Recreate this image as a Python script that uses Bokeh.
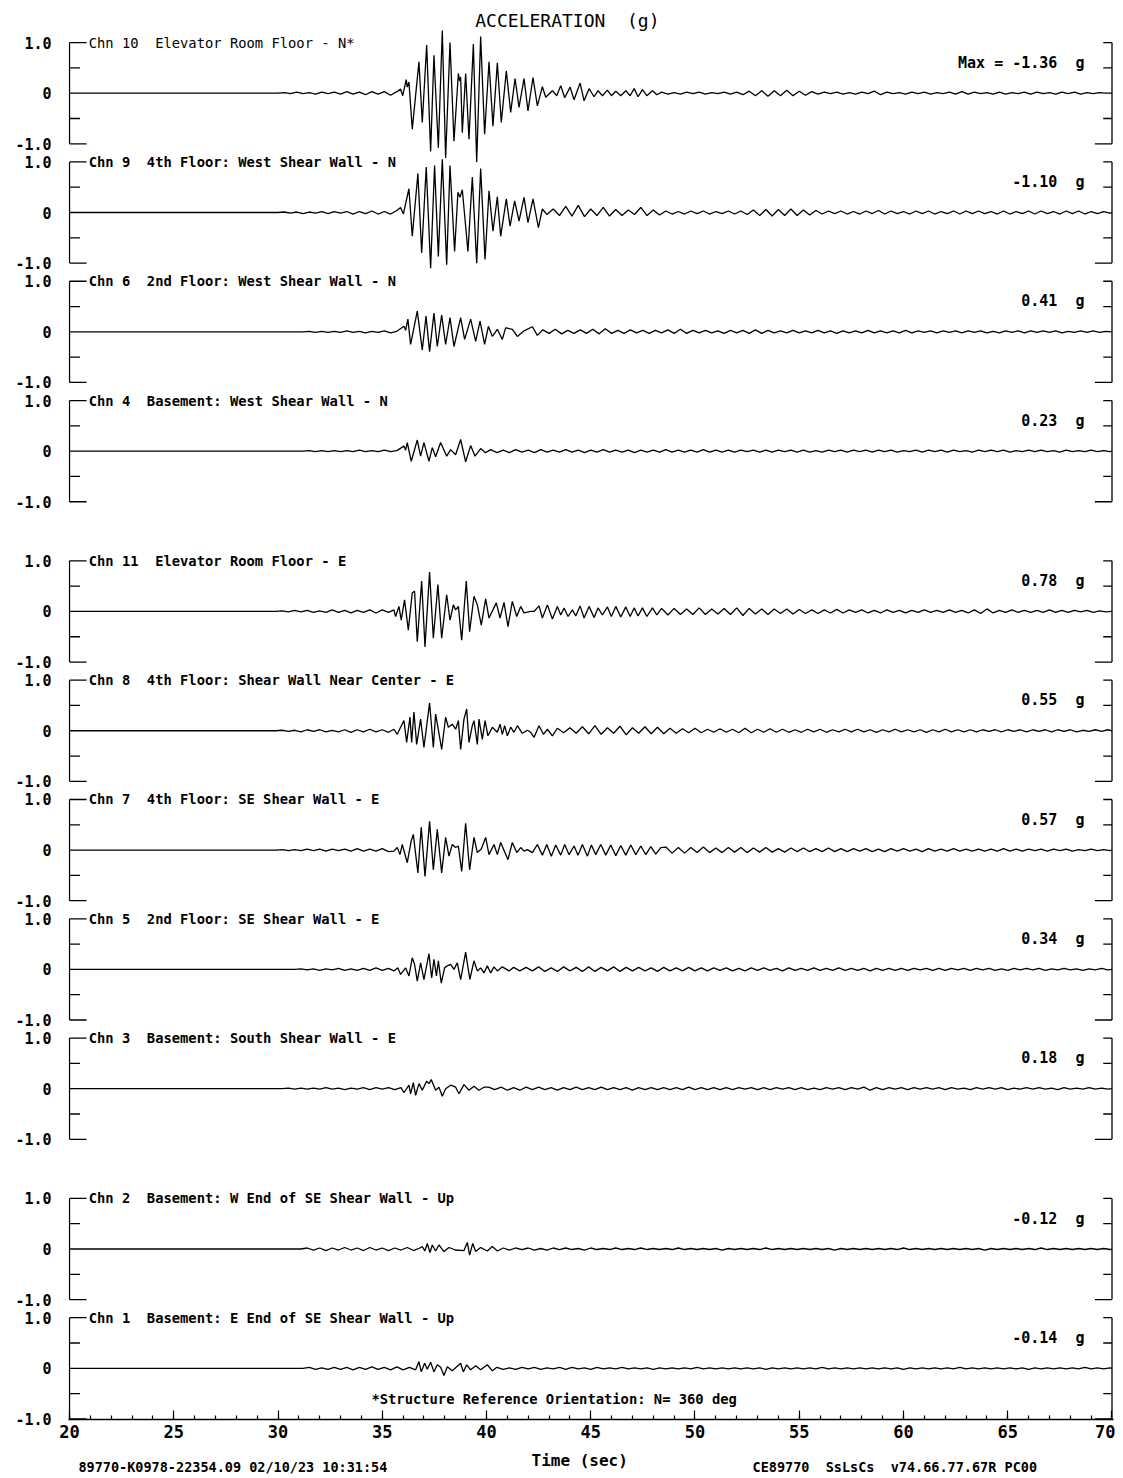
from bokeh.plotting import figure
from bokeh.models import Range1d, FixedTicker, SingleIntervalTicker, ColumnDataSource
from bokeh.layouts import column
from bokeh.embed import file_html
from bokeh.resources import INLINE
from bokeh.core.properties import value

FONT = "DejaVu Sans Mono"
NB = "\u00a0"

# ---------------- data ----------------
channels = ["Chn 10  Elevator Room Floor - N*",
            "Chn 9  4th Floor: West Shear Wall - N",
            "Chn 6  2nd Floor: West Shear Wall - N",
            "Chn 4  Basement: West Shear Wall - N",
            "Chn 11  Elevator Room Floor - E",
            "Chn 8  4th Floor: Shear Wall Near Center - E",
            "Chn 7  4th Floor: SE Shear Wall - E",
            "Chn 5  2nd Floor: SE Shear Wall - E",
            "Chn 3  Basement: South Shear Wall - E",
            "Chn 2  Basement: W End of SE Shear Wall - Up",
            "Chn 1  Basement: E End of SE Shear Wall - Up"]
max_g = [-1.36, -1.10, 0.41, 0.23, 0.78, 0.55, 0.57, 0.34, 0.18, -0.12, -0.14]
footer_left = "89770-K0978-22354.09 02/10/23 10:31:54"
footer_right = "CE89770  SsLsCs  v74.66.77.67R PC00"
note_text = "*Structure Reference Orientation: N= 360 deg"

SAMPLE_DT = 0.3   # s, spacing of low-level samples (values in 0.01 g)

# Chn 10
ch10_pre_start = 30.0
ch10_pre = [1,-1,2,-1,1,-2,2,-1,2,-2,3,-2,2,-3,3,-2,3,-4,3,-3]
ch10_t = [35.88,35.98,36.15,36.20,36.28,36.44,36.76,36.92,37.13,37.32,37.48,37.69,37.88,38.04,38.25,
          38.44,38.65,38.71,38.76,38.84,39.00,39.16,39.37,39.53,39.72,39.91,40.12,40.31,40.52,40.71,
          40.95,41.16,41.37,41.56,41.80,41.99,42.23,42.44,42.68,42.84,43.16,43.37,43.56,43.75,44.01,
          44.20,44.49,44.68,44.92,45.16,45.35,45.56,45.80,45.99,46.20,46.44,46.68,46.89,47.08,47.27,
          47.48,47.69,47.96,48.17]
ch10_a = [0.08,-0.05,0.27,0.12,0.22,-0.71,0.62,-0.58,0.95,-1.15,0.75,-1.08,1.24,-1.28,1.00,
          -0.95,0.39,0.24,0.32,-0.78,0.39,-0.91,0.97,-1.36,1.12,-0.81,0.62,-0.65,0.60,-0.58,
          0.44,-0.38,0.29,-0.28,0.29,-0.35,0.31,-0.25,0.13,-0.08,0.05,-0.05,0.15,-0.09,0.12,
          -0.13,0.20,-0.15,0.09,-0.07,0.05,-0.05,0.06,-0.05,0.04,-0.05,0.05,-0.05,0.09,-0.07,
          0.07,-0.05,0.05,-0.03]
ch10_coda_start = 48.4
ch10_coda = [2,-2,1,-2,2,-1,2,-2,1,-1,2,-2,2,-3,4,-5,5,-6,5,-5,6,-5,4,-4,3,
             -2,2,-1,2,-2,1,-2,2,-1,4,-3,2,-1,1,-2,2,-1,2,-2,1,-1,2,-2,3,-2,2,-1,1,-2,2,-2,1,-1,
             2,-2,2,-1,1,-2,2,-1,2,-2,1,-1,1,0]

# Chn 9
ch9_pre_start = 30.0
ch9_pre = [1,-1,1,-2,1,-1,2,-2,2,-1,2,-3,2,-2,3,-3,2,-3,4,-4]
ch9_t = [35.88,36.01,36.28,36.44,36.71,36.89,37.11,37.32,37.51,37.69,37.88,38.09,38.25,38.47,38.63,
         38.73,38.84,39.11,39.32,39.53,39.72,39.93,40.12,40.31,40.52,40.68,40.95,41.13,41.35,41.56,
         41.80,41.99,42.23,42.49,42.68]
ch9_a = [0.10,-0.03,0.47,-0.47,0.77,-0.80,0.90,-1.10,0.93,-0.87,1.05,-1.03,0.93,-0.77,0.40,
         0.30,0.45,-0.77,0.70,-1.00,0.87,-0.93,0.43,-0.37,0.31,-0.47,0.27,-0.27,0.23,-0.17,
         0.30,-0.20,0.27,-0.30,0.07]
ch9_coda_start = 42.9
ch9_coda = [-4,7,-6,12,-7,14,-8,7,-6,10,-7,6,-6,5,-4,10,-6,5,-5,
            3,-3,2,-3,3,-2,3,-3,2,-2,3,-3,3,-4,5,-6,6,-7,6,-6,7,-6,5,-5,4,-3,3,-2,3,-3,
            2,-3,3,-2,4,-3,3,-2,2,-3,3,-2,3,-3,2,-2,3,-3,3,-2,3,-2,2,-3,3,-3,2,-2,3,-3,
            3,-2,2,-3,3,-2,3,-3,2,-2,2,-1]

# Chn 6
ch6_pre_start = 31.2
ch6_pre = [1,-1,1,-1,1,-1,2,-1,1,-2,1,-1,2,-2,1,-2]
ch6_t = [36.04,36.12,36.23,36.36,36.68,36.92,37.10,37.27,37.48,37.64,37.85,38.04,38.25,38.44,38.76,
         38.95,39.24,39.48,39.69,39.91,40.09,40.28,40.52,40.76,40.92,41.24,41.48,41.80,42.20,42.44]
ch6_a = [0.11,0.03,0.25,-0.25,0.41,-0.36,0.31,-0.39,0.37,-0.29,0.33,-0.25,0.28,-0.29,0.28,
         -0.15,0.25,-0.19,0.21,-0.25,0.11,-0.09,0.05,-0.15,0.08,0.05,-0.09,0.02,0.10,-0.07]
ch6_coda_start = 42.7
ch6_coda = [4,-3,5,-4,3,-3,4,-3,5,-4,6,-3,3,-3,4,-2,3,-3,3,-2,4,-3,5,-3,3,-2,3,-2,2,-3,
            3,-2,3,-3,4,-3,3,-2,2,-2,3,-2,2,-2,3,-2,2,-3,2,-2,2,-2,3,-2,2,-2,2,-2,3,-2,
            2,-1,2,-2,2,-1,2,-2,2,-1,2,-2,1,-2,2,-1,2,-2,2,-1,2,-1,2,-2,1,-1,2,-1,2,-1,1]

# Chn 4
ch4_pre_start = 31.2
ch4_pre = [1,-1,1,-1,1,-1,1,-1,2,-1,1,-1,2,-1,1,-2]
ch4_t = [36.04,36.12,36.20,36.39,36.68,36.84,37.00,37.24,37.40,37.56,37.80,38.09,38.28,38.52,38.76,
         39.00,39.24,39.45,39.72,39.95]
ch4_a = [0.10,0.02,0.17,-0.20,0.22,-0.10,0.17,-0.20,0.07,-0.11,0.17,-0.10,0.03,-0.07,0.23,
         -0.21,0.11,-0.10,0.05,-0.03]
ch4_coda_start = 40.2
ch4_coda = [3,-3,2,-3,3,-2,2,-3,3,-2,2,-2,3,-2,2,-3,2,-2,3,-2,2,-2,2,-3,2,-2,2,-2,3,-2,
            2,-2,2,-2,3,-2,2,-2,2,-2,2,-1,2,-2,2,-2,2,-1,2,-2,2,-2,1,-2,2,-1,2,-2,2,-1,
            2,-2,2,-1,2,-2,1,-1,2,-2,2,-1,2,-2,2,-1,1,-2,2,-1,2,-1,2,-2,1,-1,2,-1,2,-1,
            1,-2,2,-1,1,-1,2,-1,1,-1]

# Chn 11
ch11_pre_start = 29.9
ch11_pre = [1,-1,2,-1,2,-2,1,-2,3,-2,2,-3,2,-2,3,-3,3,-2,3]
ch11_t = [35.56,35.64,35.80,35.91,36.07,36.25,36.44,36.55,36.68,36.89,37.05,37.27,37.45,37.67,37.85,
          38.09,38.25,38.41,38.52,38.65,38.81,39.03,39.19,39.40,39.56,39.75,39.96,40.12,40.47,40.65,
          40.84,41.03,41.24,41.45,41.64,41.80,42.12,42.28,42.52,42.68,42.92,43.16,43.40,43.56,43.72,
          43.91,44.12,44.28,44.49,44.68,44.92,45.16,45.35,45.56,45.80,45.99,46.20,46.44,46.68,46.89,
          47.08,47.27,47.48,47.69,47.96,48.17]
ch11_a = [0.03,-0.10,0.10,-0.17,0.23,-0.37,0.37,0.40,-0.60,0.60,-0.70,0.78,-0.53,0.53,-0.53,
          0.33,-0.17,0.13,0.03,0.10,-0.57,0.60,-0.40,0.30,0.13,-0.27,0.25,-0.13,0.17,-0.13,
          0.18,-0.30,0.20,-0.10,0.10,-0.03,0.00,0.00,0.11,-0.13,0.13,-0.15,0.10,-0.07,0.07,
          -0.10,0.03,-0.09,0.11,-0.13,0.10,-0.12,0.07,-0.07,0.09,-0.10,0.10,-0.11,0.09,-0.10,
          0.07,-0.09,0.07,-0.10,0.07,-0.07]
ch11_coda_start = 48.4
ch11_coda = [6,-7,6,-6,5,-6,7,-6,5,-5,6,-6,7,-8,6,-5,5,-6,5,-4,5,-5,4,-4,3,-4,3,-3,4,-3,
             3,-2,3,-3,2,-3,3,-2,2,-3,2,-2,3,-2,2,-2,3,-2,2,-3,3,-4,5,-3,2,-2,3,-2,2,-2,
             2,-2,3,-2,2,-2,2,-1,2,-2,1,-1]

# Chn 8
ch8_pre_start = 29.9
ch8_pre = [1,-1,1,-2,2,-1,2,-2,1,-2,2,-3,2,-2,3,-2,2,-3,2]
ch8_t = [35.56,35.72,35.88,36.04,36.17,36.33,36.41,36.52,36.65,36.84,37.00,37.27,37.45,37.56,37.67,
         37.85,38.04,38.17,38.36,38.52,38.65,38.76,38.92,39.05,39.16,39.32,39.40,39.56,39.64,39.80,
         39.93,40.07,40.28,40.52,40.65,40.76,40.87,41.00,41.16,41.32,41.48,41.72,41.96,42.12,42.28,
         42.52,42.73,42.92,43.16]
ch8_a = [0.03,-0.07,0.07,0.20,-0.23,0.27,-0.23,0.37,-0.27,0.23,-0.33,0.55,-0.33,0.33,0.07,
         -0.37,0.27,0.07,0.13,0.03,0.20,-0.37,0.23,0.43,-0.23,0.10,0.20,-0.27,0.23,-0.17,
         0.20,-0.10,0.07,-0.03,0.13,-0.07,0.10,-0.10,0.07,-0.03,0.10,-0.05,0.01,-0.03,-0.13,
         0.10,-0.07,0.03,-0.10]
ch8_coda_start = 43.4
ch8_coda = [5,-4,6,-5,8,-6,10,-7,6,-5,9,-8,6,-5,8,-6,7,-6,5,-5,4,-4,5,-4,3,-3,4,-3,3,-4,
            5,-4,3,-3,4,-3,3,-3,2,-3,3,-2,3,-3,2,-2,3,-2,3,-2,2,-3,2,-2,3,-2,2,-2,2,-3,
            2,-2,3,-2,2,-2,2,-2,2,-1,2,-2,2,-1,2,-2,2,-1,2,-2,2,-1,2,-2,1,-1,2,-1,2]

# Chn 7
ch7_pre_start = 29.9
ch7_pre = [1,-1,1,-1,2,-1,2,-2,2,-1,2,-2,3,-2,2,-2,3,-3,2]
ch7_t = [35.56,35.72,35.85,35.96,36.20,36.39,36.49,36.71,36.87,37.05,37.27,37.45,37.64,37.85,38.04,
         38.20,38.36,38.52,38.65,38.81,39.00,39.19,39.40,39.56,39.75,39.96,40.12,40.36,40.52,40.68,
         41.03,41.24,41.45,41.64,41.80,41.96,42.20,42.44,42.68,42.89,43.11,43.32,43.56,43.75,43.96,
         44.20,44.39,44.60,44.84,45.03,45.24,45.48,45.72,45.96,46.20,46.44,46.68,46.92,47.16,47.40,
         47.64,47.88,48.12,48.36]
ch7_a = [-0.02,0.05,-0.09,0.11,-0.25,0.18,0.31,-0.45,0.45,-0.52,0.57,-0.39,0.41,-0.45,0.25,
         -0.12,0.11,0.05,0.08,-0.42,0.53,-0.39,0.25,-0.05,0.02,0.25,-0.09,0.11,-0.09,0.15,
         -0.19,0.15,-0.05,0.05,-0.02,0.01,-0.05,0.11,-0.10,0.11,-0.12,0.10,-0.10,0.11,-0.09,
         0.08,-0.10,0.11,-0.12,0.10,-0.09,0.11,-0.10,0.10,-0.11,0.09,-0.10,0.10,-0.09,0.08,
         -0.09,0.07,-0.08,0.05]
ch7_coda_start = 48.6
ch7_coda = [6,-6,5,-6,5,-5,6,-5,4,-5,5,-4,5,-5,4,-4,5,-4,3,-4,4,-3,4,-3,3,-3,4,-3,3,-3,
            3,-2,3,-3,2,-3,3,-2,3,-2,2,-3,3,-2,2,-2,3,-2,2,-2,2,-2,2,-2,3,-2,2,-2,2,-1,
            2,-2,2,-1,2,-2,1,-1,2,-1,1,-1]

# Chn 5
ch5_pre_start = 30.8
ch5_pre = [1,-1,1,-2,1,-1,2,-2,1,-2,2,-2,3,-2,2,-3]
ch5_t = [35.56,35.75,35.88,36.12,36.28,36.44,36.55,36.68,36.84,37.00,37.24,37.37,37.48,37.60,37.69,
         37.83,37.99,38.12,38.28,38.44,38.60,38.76,39.00,39.20,39.40,39.56,39.72,39.88,40.04,40.20,
         40.36,40.52,40.76,41.08]
ch5_a = [-0.03,0.03,-0.10,0.03,-0.13,0.23,0.10,-0.23,0.13,-0.20,0.31,-0.17,0.20,-0.13,0.17,
         -0.27,0.03,0.07,0.10,0.00,0.13,-0.20,0.34,-0.20,0.17,-0.03,0.03,-0.07,0.07,-0.07,
         0.05,-0.03,0.05,-0.03]
ch5_coda_start = 41.3
ch5_coda = [4,-3,4,-3,5,-4,3,-4,5,-3,4,-4,5,-4,4,-3,5,-4,4,-3,4,-3,3,-4,4,-3,3,-3,4,-3,
            3,-3,3,-2,3,-3,2,-3,3,-2,3,-2,2,-3,3,-2,2,-2,3,-2,2,-2,3,-2,2,-2,2,-3,2,-2,
            2,-2,2,-2,2,-1,2,-2,2,-2,2,-1,2,-2,2,-1,2,-2,1,-2,2,-1,2,-1,2,-2,1,-1,2,-1,
            1,-2,1,-1,2,-1]

# Chn 3
ch3_pre_start = 30.2
ch3_pre = [1,-1,1,-1,1,-1,2,-1,1,-2,1,-1,2,-2,2,-1,2,-2,2,-3]
ch3_t = [36.04,36.28,36.36,36.49,36.60,36.76,36.92,37.13,37.24,37.35,37.56,37.72,37.88,38.04,38.28,
         38.52,38.68,38.92,39.16,39.40,39.64,39.88]
ch3_a = [-0.08,0.07,-0.10,0.12,-0.13,0.10,-0.03,0.15,0.10,0.18,-0.03,0.03,-0.15,0.00,0.07,
         0.03,-0.10,0.08,-0.03,0.05,-0.03,0.03]
ch3_coda_start = 40.1
ch3_coda = [3,-2,3,-3,2,-3,3,-2,3,-2,2,-3,2,-2,3,-2,2,-2,3,-2,2,-2,2,-3,2,-2,2,-2,2,-2,
            2,-2,3,-2,2,-2,2,-2,2,-2,2,-1,2,-2,2,-2,2,-1,2,-2,2,-2,1,-2,2,-1,2,-2,2,-1,
            3,-3,2,-2,2,-1,2,-2,2,-1,2,-1,2,-2,2,-1,1,-2,2,-1,2,-1,2,-2,1,-1,2,-1,2,-1,
            1,-2,2,-1,1,-1,2,-1,1,-1]

# Chn 2
ch2_pre_start = 31.1
ch2_pre = [2,-2,2,-3,2,-2,3,-2,2,-3,3,-2,2,-3,2,-2,3,-3,2,-3]
ch2_t = [36.92,37.04,37.16,37.29,37.40,37.56,37.72,37.96,38.20,38.50,38.92,39.08,39.19,39.34,39.48,
         39.72,40.04,40.28,40.52]
ch2_a = [0.05,-0.04,0.11,-0.07,0.08,-0.04,0.08,-0.05,0.03,-0.02,-0.03,0.13,-0.12,0.11,-0.05,
         0.03,-0.04,0.05,-0.04]
ch2_coda_start = 40.8
ch2_coda = [2,-2,2,-1,2,-2,1,-2,2,-1,2,-1,1,-2,2,-1,1,-1,2,-1,1,-1,2,-1,1,-1,1,-1,2,-1,
            1,-1,1,-1,1,-2,1,-1,1,-1,1,-1,2,-1,1,-1,1,-1,1,-1,1,-1,1,-2,1,-1,1,-1,1,-1,
            1,-1,1,-1,2,-1,1,-1,1,-1,1,-1,1,-1,1,-1,1,-2,1,-1,1,-1,1,-1,1,-1,2,-1,1,-1,
            1,-1,1,-1,1,-1,1,-1]

# Chn 1
ch1_pre_start = 31.2
ch1_pre = [2,-2,1,-2,2,-2,2,-3,2,-2,3,-2,2,-3,3,-3,2,-3,4]
ch1_t = [36.76,36.87,37.03,37.16,37.32,37.48,37.64,37.80,37.96,38.12,38.36,38.76,38.89,39.05,39.24,
         39.48,39.72,40.04,40.28]
ch1_a = [0.13,-0.07,0.10,-0.02,0.12,-0.07,0.07,0.02,-0.14,0.03,-0.05,0.10,-0.07,0.07,-0.03,
         0.05,-0.03,0.07,-0.05]
ch1_coda_start = 40.5
ch1_coda = [2,-2,1,-2,2,-1,2,-2,1,-1,2,-2,2,-1,1,-2,2,-1,1,-1,2,-1,1,-1,1,-2,1,-1,1,-1,
            1,-1,2,-1,1,-1,1,-1,1,-1,1,-1,1,-2,1,-1,1,-1,1,-1,1,-1,2,-1,1,-1,1,-1,1,-1,
            1,-1,1,-1,1,-2,1,-1,1,-1,1,-1,1,-1,2,-1,1,-1,1,-1,1,-1,1,-1,1,-2,1,-1,1,-1,
            1,-1,1,-1,2,-1,1,-1,1]

traces = [
    (ch10_pre_start, ch10_pre, ch10_t, ch10_a, ch10_coda_start, ch10_coda),
    (ch9_pre_start, ch9_pre, ch9_t, ch9_a, ch9_coda_start, ch9_coda),
    (ch6_pre_start, ch6_pre, ch6_t, ch6_a, ch6_coda_start, ch6_coda),
    (ch4_pre_start, ch4_pre, ch4_t, ch4_a, ch4_coda_start, ch4_coda),
    (ch11_pre_start, ch11_pre, ch11_t, ch11_a, ch11_coda_start, ch11_coda),
    (ch8_pre_start, ch8_pre, ch8_t, ch8_a, ch8_coda_start, ch8_coda),
    (ch7_pre_start, ch7_pre, ch7_t, ch7_a, ch7_coda_start, ch7_coda),
    (ch5_pre_start, ch5_pre, ch5_t, ch5_a, ch5_coda_start, ch5_coda),
    (ch3_pre_start, ch3_pre, ch3_t, ch3_a, ch3_coda_start, ch3_coda),
    (ch2_pre_start, ch2_pre, ch2_t, ch2_a, ch2_coda_start, ch2_coda),
    (ch1_pre_start, ch1_pre, ch1_t, ch1_a, ch1_coda_start, ch1_coda),
]

# ---------------- layout (strip offsets in g units) ----------------
STRIP_STEP = 2.358
GROUP_STEP = 3.168
PX_PER_G = 50.6
offsets = []
o = 0.0
for i in range(11):
    offsets.append(o)
    o -= GROUP_STEP if i in (3, 8) else STRIP_STEP

T0, T1 = 20.0, 70.0
XR = Range1d(19.952, 70.072)
FRAME_W = 1045
LEFT_B, RIGHT_B = 68, 2
Y_TOP = 1.674
FRAME_H = 1411
Y_BOT = Y_TOP - FRAME_H / PX_PER_G
AXIS_B = 25

p = figure(frame_width=FRAME_W, frame_height=FRAME_H,
           x_range=XR, y_range=Range1d(Y_BOT, Y_TOP),
           output_backend="svg", toolbar_location=None,
           min_border_left=LEFT_B, min_border_right=RIGHT_B, min_border_top=8, min_border_bottom=AXIS_B)
p.outline_line_color = None
p.grid.visible = False

# x axis
xa = p.xaxis[0]
xa.ticker = SingleIntervalTicker(interval=5, num_minor_ticks=5)
xa.major_tick_in = 9
xa.major_tick_out = 0
xa.minor_tick_in = 4
xa.minor_tick_out = 0
xa.axis_line_width = 1.3
xa.major_tick_line_width = 1.2
xa.minor_tick_line_width = 1.2
xa.major_label_text_font = FONT
xa.major_label_text_font_size = "17px"
xa.major_label_text_font_style = "bold"
xa.major_label_standoff = 5
xa.major_label_text_color = "black"

# y axis (labels only; strip brackets drawn as segments)
yticks = []
yover = {}
for off in offsets:
    for v, s in ((1.0, "1.0"), (0.0, "0"), (-1.0, "-1.0")):
        yticks.append(off + v)
        yover[off + v] = s
ya = p.yaxis[0]
ya.ticker = FixedTicker(ticks=yticks)
ya.major_label_overrides = yover
ya.axis_line_color = None
ya.major_tick_line_color = None
ya.minor_tick_line_color = None
ya.major_tick_out = 0
ya.major_tick_in = 0
ya.major_label_standoff = 17
ya.major_label_text_font = FONT
ya.major_label_text_font_size = "15px"
ya.major_label_text_font_style = "bold"
ya.major_label_text_color = "black"

# strip brackets
LONG, HALF, RTOP = 0.82, 0.5, 0.42
x0, y0, x1, y1 = [], [], [], []
for off in offsets:
    segs = [
        (T0, off - 1, T0, off + 1), (T0, off + 1, T0 + LONG, off + 1), (T0, off - 1, T0 + LONG, off - 1),
        (T0, off + 0.5, T0 + HALF, off + 0.5), (T0, off - 0.5, T0 + HALF, off - 0.5),
        (T1, off - 1, T1, off + 1), (T1 - RTOP, off + 1, T1, off + 1), (T1 - LONG, off - 1, T1, off - 1),
        (T1 - RTOP, off + 0.5, T1, off + 0.5), (T1 - RTOP, off - 0.5, T1, off - 0.5),
    ]
    for a, b, c, d in segs:
        x0.append(a); y0.append(b); x1.append(c); y1.append(d)
p.segment(x0=x0, y0=y0, x1=x1, y1=y1, line_color="black", line_width=1.3)

# traces
def build(pre_start, pre, ts, av, coda_start, coda):
    t = [T0, pre_start]
    a = [0.0, 0.0]
    for i, v in enumerate(pre):
        ti = pre_start + SAMPLE_DT * (i + 1)
        if ti < ts[0] - 0.05:
            t.append(ti); a.append(v / 100.0)
    n = min(len(ts), len(av))
    t += ts[:n]; a += av[:n]
    for i, v in enumerate(coda):
        ti = coda_start + SAMPLE_DT * i
        if ti < T1:
            t.append(ti); a.append(v / 100.0)
    t.append(T1); a.append(0.0)
    return t, a

for off, tr in zip(offsets, traces):
    t, a = build(*tr)
    p.line(t, [off + v for v in a], line_color="black", line_width=1.3)

# channel labels
lab_x = 20.92
src_n = ColumnDataSource(dict(x=[lab_x], y=[offsets[0] + 1.0], text=[channels[0].replace("  ", " " + NB)]))
src_b = ColumnDataSource(dict(x=[lab_x] * 10, y=[off + 1.0 for off in offsets[1:]],
                              text=[c.replace("  ", " " + NB) for c in channels[1:]]))
p.text(x="x", y="y", text="text", source=src_n, text_font=value(FONT), text_font_size="13.8px",
       text_baseline="middle", text_align="left", text_color="black")
p.text(x="x", y="y", text="text", source=src_b, text_font=value(FONT), text_font_size="13.8px",
       text_font_style="bold", text_baseline="middle", text_align="left", text_color="black")

# max labels
mtext = []
for i, m in enumerate(max_g):
    s = f"{m:.2f}" + NB + NB + "g"
    if i == 0:
        s = "Max = " + s
    mtext.append(s)
src_m = ColumnDataSource(dict(x=[68.68] * 11, y=[off + 0.6 for off in offsets], text=mtext))
p.text(x="x", y="y", text="text", source=src_m, text_font=value(FONT), text_font_size="15px",
       text_font_style="bold", text_baseline="middle", text_align="right", text_color="black")

# title and orientation note (inside the frame)
p.text(x=[43.88], y=[1.43], text=["ACCELERATION" + NB + NB + "(g)"], text_font=value(FONT),
       text_font_size="18px", text_align="center", text_baseline="middle", text_color="black")
p.text(x=[34.48], y=[offsets[-1] - 0.61], text=[note_text], text_font=value(FONT),
       text_font_size="13.8px", text_font_style="bold", text_align="left", text_baseline="middle",
       text_color="black")

# footer strip below the time axis (same time scale)
FOOT_H = 32
foot_top = Y_BOT - AXIS_B / PX_PER_G
foot_bot = foot_top - FOOT_H / PX_PER_G
p2 = figure(frame_width=FRAME_W, frame_height=FOOT_H, x_range=XR, y_range=Range1d(foot_bot, foot_top),
            output_backend="svg", toolbar_location=None,
            min_border_left=LEFT_B, min_border_right=RIGHT_B, min_border_top=0, min_border_bottom=0)
p2.outline_line_color = None
p2.grid.visible = False
p2.xaxis.visible = False
p2.yaxis.visible = False
p2.text(x=[42.16], y=[offsets[-1] - 1.82], text=["Time (sec)"], text_font=value(FONT),
        text_font_size="16px", text_font_style="bold", text_align="left", text_baseline="middle",
        text_color="black")
p2.text(x=[20.43, 52.76], y=[offsets[-1] - 1.95] * 2,
        text=[footer_left, footer_right.replace("  ", NB + NB)], text_font=value(FONT),
        text_font_size="13.5px", text_font_style="bold", text_align="left", text_baseline="middle",
        text_color="black")

layout = column(p, p2, spacing=0)
open("out.html", "w").write(file_html(layout, INLINE))
